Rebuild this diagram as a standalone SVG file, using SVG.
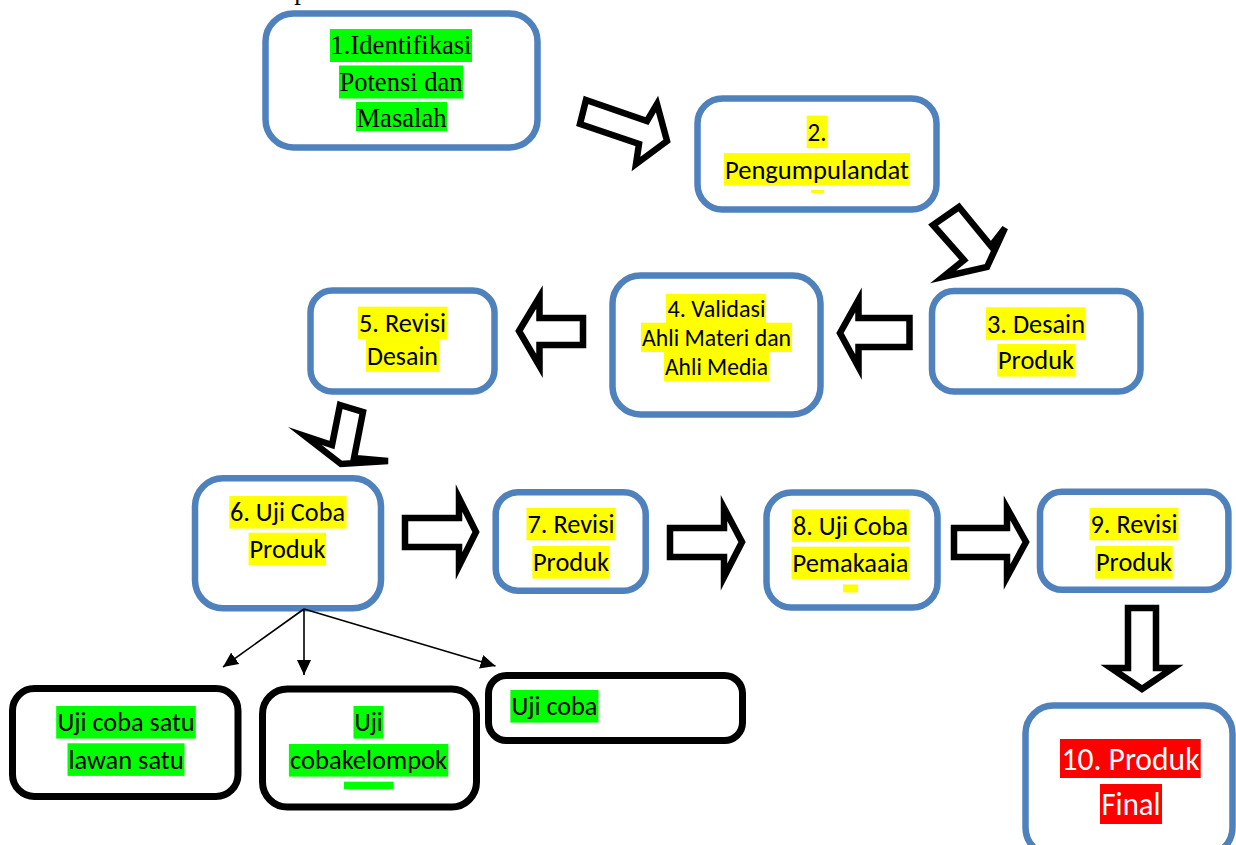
<svg xmlns="http://www.w3.org/2000/svg" width="1236" height="845" viewBox="0 0 1236 845">
<style>
.bx{fill:#fff;stroke:#4F81BD;stroke-width:6.5}
.bk{fill:#fff;stroke:#000;stroke-width:7}
.ar{fill:#fff;stroke:#000;stroke-width:6.5;stroke-linejoin:miter;stroke-miterlimit:6}
.cn{stroke:#000;stroke-width:1.6;fill:none;marker-end:url(#ah)}
.c{font-family:Carlito,Lato,'Liberation Sans',sans-serif;font-size:26.7px;text-anchor:middle;fill:#000}
.c24{font-size:24px}
.c32{font-size:32px;fill:#fff}
.t{font-family:'Liberation Serif',serif;font-size:26.7px;text-anchor:middle;fill:#000}
.hy{fill:#FFFF00}.hg{fill:#00FF00}.hr{fill:#FF0000}
</style>
<defs>
<marker id="ah" markerUnits="userSpaceOnUse" markerWidth="16" markerHeight="14" refX="15" refY="7" orient="auto">
<path d="M0,0 L15,7 L0,14 z" fill="#000"/>
</marker>
</defs>
<rect width="1236" height="845" fill="#fff"/>
<text class="t" x="301" y="-1">p</text>

<g id="node1">
<rect class="bx" x="265.5" y="13.5" width="272" height="134" rx="28"/>
<rect class="hg" x="330" y="29" width="142" height="33"/>
<rect class="hg" x="339" y="65.5" width="124" height="33"/>
<rect class="hg" x="356" y="102" width="91" height="29"/>
<text class="t" x="401" y="54.3" textLength="141" lengthAdjust="spacingAndGlyphs">1.Identifikasi</text>
<text class="t" x="401" y="90.7" textLength="123" lengthAdjust="spacingAndGlyphs">Potensi dan</text>
<text class="t" x="401.5" y="127.3" textLength="90" lengthAdjust="spacingAndGlyphs">Masalah</text>
</g>

<g id="node2">
<rect class="bx" x="697.5" y="98.5" width="239" height="111" rx="25"/>
<rect class="hy" x="806.7" y="115.6" width="21" height="32.6"/>
<rect class="hy" x="724" y="153.1" width="186" height="32.6"/>
<rect class="hy" x="811" y="190" width="13" height="3"/>
<text class="c" x="817" y="141" textLength="19" lengthAdjust="spacingAndGlyphs">2.</text>
<text class="c" x="817" y="178.5" textLength="184" lengthAdjust="spacingAndGlyphs">Pengumpulandat</text>
</g>

<g id="node3">
<rect class="bx" x="932" y="291" width="208.5" height="100.5" rx="22"/>
<rect class="hy" x="986" y="307.3" width="99.7" height="32.6"/>
<rect class="hy" x="997.3" y="344" width="77.7" height="32.6"/>
<text class="c" x="1036" y="332.7" textLength="98" lengthAdjust="spacingAndGlyphs">3. Desain</text>
<text class="c" x="1036" y="369.4" textLength="76" lengthAdjust="spacingAndGlyphs">Produk</text>
</g>

<g id="node4">
<rect class="bx" x="612.5" y="275.5" width="208" height="139" rx="28"/>
<rect class="hy" x="666" y="293.7" width="100" height="29.3"/>
<rect class="hy" x="641" y="322.7" width="151" height="29.3"/>
<rect class="hy" x="664" y="351.7" width="105" height="29.3"/>
<text class="c c24" x="716.5" y="316.5" textLength="98" lengthAdjust="spacingAndGlyphs">4. Validasi</text>
<text class="c c24" x="716.5" y="345.5" textLength="149" lengthAdjust="spacingAndGlyphs">Ahli Materi dan</text>
<text class="c c24" x="716.5" y="374.5" textLength="103" lengthAdjust="spacingAndGlyphs">Ahli Media</text>
</g>

<g id="node5">
<rect class="bx" x="310.5" y="290.5" width="184" height="101" rx="22"/>
<rect class="hy" x="358" y="306.7" width="89" height="32.6"/>
<rect class="hy" x="366" y="339.3" width="73" height="32.6"/>
<text class="c" x="402.5" y="332.1" textLength="87" lengthAdjust="spacingAndGlyphs">5. Revisi</text>
<text class="c" x="402.5" y="364.7" textLength="71" lengthAdjust="spacingAndGlyphs">Desain</text>
</g>

<g id="node6">
<rect class="bx" x="195" y="478.3" width="186" height="130" rx="28"/>
<rect class="hy" x="229.3" y="496" width="117.3" height="32.6"/>
<rect class="hy" x="248.6" y="532.7" width="77.4" height="32.6"/>
<text class="c" x="287.5" y="521.4" textLength="115" lengthAdjust="spacingAndGlyphs">6. Uji Coba</text>
<text class="c" x="287.5" y="558.1" textLength="76" lengthAdjust="spacingAndGlyphs">Produk</text>
</g>

<g id="node7">
<rect class="bx" x="495.7" y="492.3" width="150" height="98.4" rx="22"/>
<rect class="hy" x="526.5" y="507.7" width="89" height="32.6"/>
<rect class="hy" x="532.3" y="546" width="77.4" height="32.6"/>
<text class="c" x="571" y="533.1" textLength="87" lengthAdjust="spacingAndGlyphs">7. Revisi</text>
<text class="c" x="571" y="571.4" textLength="76" lengthAdjust="spacingAndGlyphs">Produk</text>
</g>

<g id="node8">
<rect class="bx" x="766.5" y="492.5" width="171" height="115" rx="25"/>
<rect class="hy" x="791.8" y="509.3" width="117.4" height="32.6"/>
<rect class="hy" x="791.6" y="546.7" width="117.8" height="32.6"/>
<rect class="hy" x="843" y="584.5" width="15" height="8"/>
<text class="c" x="850.5" y="534.7" textLength="115" lengthAdjust="spacingAndGlyphs">8. Uji Coba</text>
<text class="c" x="850.5" y="572.1" textLength="116" lengthAdjust="spacingAndGlyphs">Pemakaaia</text>
</g>

<g id="node9">
<rect class="bx" x="1040" y="491.8" width="188.4" height="98" rx="22"/>
<rect class="hy" x="1089.5" y="507.7" width="89" height="32.6"/>
<rect class="hy" x="1095.3" y="546" width="77.4" height="32.6"/>
<text class="c" x="1134" y="533.1" textLength="87" lengthAdjust="spacingAndGlyphs">9. Revisi</text>
<text class="c" x="1134" y="571.4" textLength="76" lengthAdjust="spacingAndGlyphs">Produk</text>
</g>

<g id="node10">
<rect class="bx" x="1025.5" y="705.5" width="207" height="150" rx="28"/>
<rect class="hr" x="1060" y="739" width="140.7" height="39"/>
<rect class="hr" x="1100" y="784" width="62" height="40"/>
<text class="c c32" x="1130.5" y="769.5" textLength="138" lengthAdjust="spacingAndGlyphs">10. Produk</text>
<text class="c c32" x="1131" y="814.5" textLength="59" lengthAdjust="spacingAndGlyphs">Final</text>
</g>

<g id="nodeA">
<rect class="bk" x="12.5" y="688.5" width="225.5" height="108" rx="22"/>
<rect class="hg" x="56.2" y="706" width="139.6" height="32.6"/>
<rect class="hg" x="67.5" y="743.3" width="117" height="32.6"/>
<text class="c" x="126" y="731.4" textLength="137" lengthAdjust="spacingAndGlyphs">Uji coba satu</text>
<text class="c" x="126" y="768.7" textLength="115" lengthAdjust="spacingAndGlyphs">lawan satu</text>
</g>

<g id="nodeB">
<rect class="bk" x="262.5" y="689" width="214" height="118" rx="25"/>
<rect class="hg" x="353.5" y="706" width="30" height="32.6"/>
<rect class="hg" x="288.9" y="744" width="159.4" height="32.6"/>
<rect class="hg" x="344" y="781.7" width="49.6" height="7.6"/>
<text class="c" x="368.5" y="731.4" textLength="28" lengthAdjust="spacingAndGlyphs">Uji</text>
<text class="c" x="368.6" y="769.4" textLength="157" lengthAdjust="spacingAndGlyphs">cobakelompok</text>
</g>

<g id="nodeC">
<rect class="bk" x="488.5" y="675.5" width="254" height="65" rx="18"/>
<rect class="hg" x="510.4" y="690" width="88.1" height="32.6"/>
<text class="c" x="511.4" y="715.4" textLength="86" lengthAdjust="spacingAndGlyphs" style="text-anchor:start">Uji coba</text>
</g>

<g id="connectors">
<polygon class="ar" points="586,100 647,121 657,104 667,141 636,164 639,144 580,124"/>
<polygon class="ar" points="959,207 991,246 1005,228 987,267 943,277 964,260 933,225"/>
<polygon class="ar" points="840,333 858.5,300 858.5,318 909.5,318 909.5,347 858.5,347 858.5,367"/>
<polygon class="ar" points="519,331 539.5,297 539.5,318 583,318 583,345 539.5,345 539.5,366"/>
<polygon class="ar" points="340,405 363,412 354,458 388,461 341,464 305,436 332,445"/>
<polygon class="ar" points="405,518 459,518 459,498 476,532 459,566 459,547 405,547"/>
<polygon class="ar" points="670,528 724,528 724,508 742,542 724,577 724,557 670,557"/>
<polygon class="ar" points="954,528 1007,528 1007,508 1026,542 1007,577 1007,557 954,557"/>
<polygon class="ar" points="1128,608 1156,608 1156,668 1173,668 1142,689 1111,668 1128,668"/>
<line class="cn" x1="304" y1="609" x2="223" y2="667"/>
<line class="cn" x1="304" y1="609" x2="304" y2="675"/>
<line class="cn" x1="304" y1="609" x2="495.5" y2="666"/>
</g>
</svg>
